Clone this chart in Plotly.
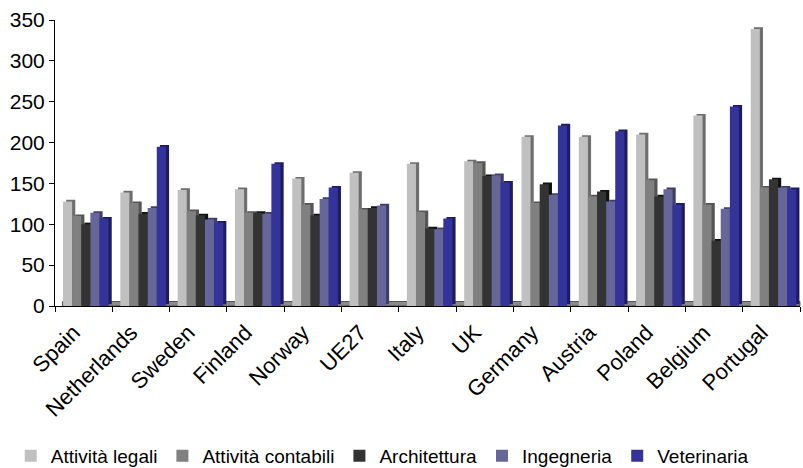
import plotly.graph_objects as go

# Index values by country and professional activity
countries = ["Spain", "Netherlands", "Sweden", "Finland", "Norway", "UE27", "Italy",
             "UK", "Germany", "Austria", "Poland", "Belgium", "Portugal"]

attivita_legali = [128, 139, 142, 143, 156, 163, 174, 177, 207, 207, 210, 233, 339]
attivita_contabili = [110, 126, 116, 114, 124, 118, 115, 175, 126, 134, 154, 124, 145]
architettura = [100, 113, 111, 114, 111, 120, 95, 159, 149, 140, 134, 80, 155]
ingegneria = [114, 120, 106, 113, 131, 123, 94, 160, 136, 128, 143, 119, 145]
veterinaria = [107, 195, 102, 174, 145, None, 107, 151, 221, 214, 124, 244, 143]

series_names = ["Attività legali", "Attività contabili", "Architettura", "Ingegneria", "Veterinaria"]
series_values = [attivita_legali, attivita_contabili, architettura, ingegneria, veterinaria]
front_colors = ["#C0C0C0", "#808080", "#333333", "#666699", "#333399"]
side_colors = ["#6E6E6E", "#555555", "#111111", "#3E3E6A", "#1C1C66"]

font_family = "Arial, Liberation Sans, sans-serif"
bar_w = 0.159
start = -0.36
depth_x = 0.055  # horizontal depth of the pseudo-3D side face
depth_y = 2.0    # vertical lift of the side face

fig = go.Figure()

# darker side faces drawn first, behind the front faces
for i, (vals, col) in enumerate(zip(series_values, side_colors)):
    fig.add_trace(go.Bar(
        x=countries, y=vals, base=depth_y,
        width=bar_w, offset=start + i * bar_w + depth_x,
        marker=dict(color=col, line=dict(width=0)),
        showlegend=False, hoverinfo="skip",
    ))

# front faces
for i, (name, vals, col) in enumerate(zip(series_names, series_values, front_colors)):
    fig.add_trace(go.Bar(
        x=countries, y=vals, name=name,
        width=bar_w, offset=start + i * bar_w,
        marker=dict(color=col, line=dict(width=0)),
    ))

# chart floor
fig.add_shape(type="rect", xref="paper", yref="y", x0=0.01, x1=1.0, y0=0, y1=5.5,
              fillcolor="#8C8C8C", line=dict(color="#3A3A3A", width=0.8), layer="below")

fig.update_layout(
    width=803, height=468,
    barmode="overlay",
    paper_bgcolor="white", plot_bgcolor="white",
    margin=dict(l=55, r=3, t=20, b=162, autoexpand=False),
    font=dict(family=font_family, size=20, color="black"),
    xaxis=dict(
        type="category", showline=True, linecolor="black", linewidth=1,
        ticks="outside", tickson="boundaries", ticklen=5, tickcolor="black",
        tickangle=-45, tickfont=dict(size=22), showgrid=False, automargin=False,
        ticklabelshift=-10, ticklabelstandoff=4,
    ),
    yaxis=dict(
        range=[0, 350], dtick=50, showline=True, linecolor="black", linewidth=1,
        ticks="outside", ticklen=5, tickcolor="black", showgrid=False, zeroline=False,
        tickfont=dict(size=21), automargin=False,
    ),
    legend=dict(
        orientation="h", xref="container", x=0.476, xanchor="center",
        yref="container", y=0.026, yanchor="middle", font=dict(size=19),
        itemwidth=30, tracegroupgap=0,
    ),
    showlegend=True,
)

fig.write_html("out.html")
